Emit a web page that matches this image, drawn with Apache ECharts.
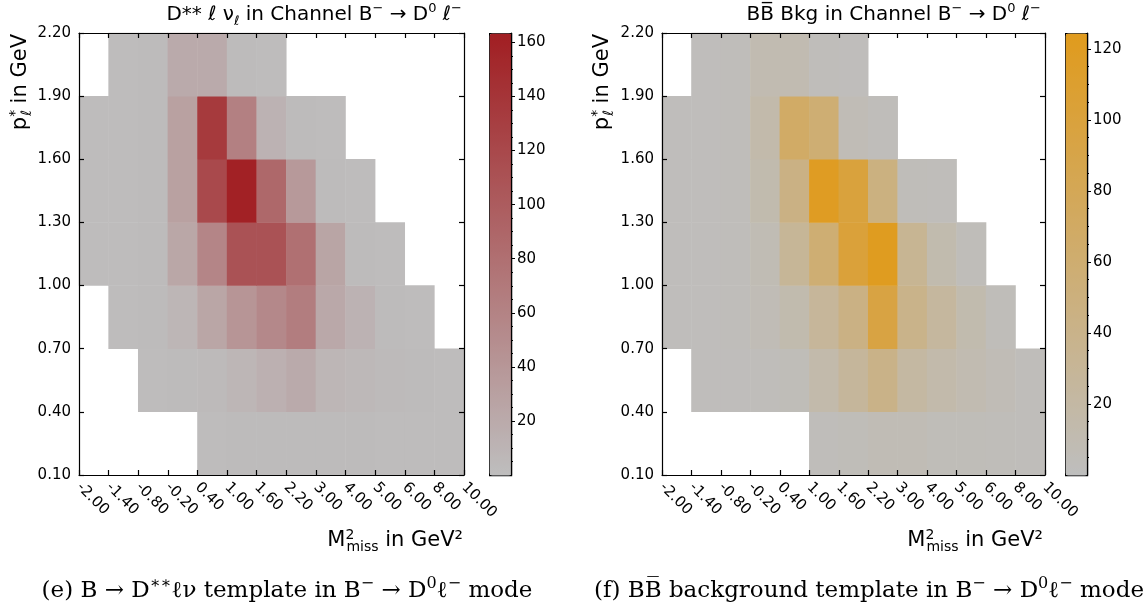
<!DOCTYPE html>
<html><head><meta charset="utf-8">
<script src="https://cdn.jsdelivr.net/npm/echarts@6/dist/echarts.min.js"></script>
<style>html,body{margin:0;padding:0;background:#fff}#c{width:1147px;height:610px}</style>
</head><body><div id="c"></div>
<script>
// ---- data ----
const xEdges = ['-2.00','-1.40','-0.80','-0.20','0.40','1.00','1.60','2.20','3.00','4.00','5.00','6.00','8.00','10.00'];
const yEdges = ['0.10','0.40','0.70','1.00','1.30','1.60','1.90','2.20'];
// rows from bottom (0.10-0.40) to top (1.90-2.20); 13 M2miss bins each
const dstarRow0 = [null,null,null,null,2,3,3,3,3,3,2,2,2];
const dstarRow1 = [null,null,2,3,4,8,14,20,8,6,4,3,2];
const dstarRow2 = [null,2,3,8,25,42,55,66,22,12,3,2,null];
const dstarRow3 = [2,2,3,24,58,110,110,80,26,3,2,null,null];
const dstarRow4 = [2,2,3,30,120,160,88,38,3,2,null,null,null];
const dstarRow5 = [2,2,3,30,135,63,12,3,2,null,null,null,null];
const dstarRow6 = [null,2,3,20,20,3,2,null,null,null,null,null,null];
const bbRow0 = [null,null,null,null,null,3,5,7,7,5,5,4,3];
const bbRow1 = [null,2,2,3,5,15,27,42,22,15,10,6,3];
const bbRow2 = [2,2,3,6,12,28,45,95,40,25,12,4,null];
const bbRow3 = [2,2,3,8,30,58,102,122,33,12,4,null,null];
const bbRow4 = [2,2,3,12,45,120,100,48,4,3,null,null,null];
const bbRow5 = [2,2,3,15,68,58,6,3,null,null,null,null,null];
const bbRow6 = [null,2,3,10,10,3,2,null,null,null,null,null,null];
const dstarMax = 163.5;
const bbMax = 124.5;
const dstarTicks = [20,40,60,80,100,120,140,160];
const bbTicks = [20,40,60,80,100,120];

const dstarRows = [dstarRow0,dstarRow1,dstarRow2,dstarRow3,dstarRow4,dstarRow5,dstarRow6];
const bbRows = [bbRow0,bbRow1,bbRow2,bbRow3,bbRow4,bbRow5,bbRow6];
function toData(rows){const d=[];rows.forEach((r,yi)=>r.forEach((v,xi)=>{if(v!=null)d.push([xi,yi,v]);}));return d;}

const F = 'DejaVu Sans';
const BLK = '#000';
const nX = xEdges.length-1, nY = yEdges.length-1;
const catX = Array.from({length:nX},(_,i)=>String(i));
const catY = Array.from({length:nY},(_,i)=>String(i));

const panels = [
  {left:79, top:33, w:385, h:442, cbLeft:489, max:dstarMax, ticks:dstarTicks, rows:dstarRows, col:['#bebebe','#a11e22']},
  {left:662, top:33, w:383, h:442, cbLeft:1065, max:bbMax, ticks:bbTicks, rows:bbRows, col:['#bebebe','#e09b1d']}
];

const grid=[], xAxis=[], yAxis=[], series=[], visualMap=[];
const lineS = {show:true, onZero:false, lineStyle:{color:BLK, width:1.2}};
const noS = {show:false};
panels.forEach((p,pi)=>{
  const g0 = grid.length;
  grid.push({left:p.left, top:p.top, width:p.w, height:p.h});
  grid.push({left:p.left, top:p.top, width:p.w, height:p.h});
  grid.push({left:p.cbLeft, top:p.top, width:22, height:p.h});
  const x0 = xAxis.length, y0 = yAxis.length;
  xAxis.push({type:'category', gridIndex:g0, data:catX, show:false});
  yAxis.push({type:'category', gridIndex:g0, data:catY, show:false});
  const tick = {show:true, inside:true, length:5, lineStyle:{color:BLK, width:1.2}};
  // edge axes: value i+1 is bin edge i (range kept away from zero)
  xAxis.push({type:'value', gridIndex:g0+1, position:'bottom', min:1, max:nX+1, interval:1, z:10,
    axisLine:lineS, axisTick:tick, splitLine:noS,
    axisLabel:{rotate:-45, margin:10, fontFamily:F, fontSize:15, color:BLK, formatter:v=>xEdges[Math.round(v)-1]}});
  xAxis.push({type:'value', gridIndex:g0+1, position:'top', min:1, max:nX+1, interval:1, z:10,
    axisLine:lineS, axisTick:tick, splitLine:noS, axisLabel:noS});
  yAxis.push({type:'value', gridIndex:g0+1, position:'left', min:1, max:nY+1, interval:1, z:10,
    axisLine:lineS, axisTick:tick, splitLine:noS,
    axisLabel:{margin:8, fontFamily:F, fontSize:15, color:BLK, formatter:v=>yEdges[Math.round(v)-1]}});
  yAxis.push({type:'value', gridIndex:g0+1, position:'right', min:1, max:nY+1, interval:1, z:10,
    axisLine:lineS, axisTick:tick, splitLine:noS, axisLabel:noS});
  // colorbar axis
  xAxis.push({type:'value', gridIndex:g0+2, min:1, max:2, show:false});
  yAxis.push({type:'value', gridIndex:g0+2, position:'right', min:0, max:p.max, interval:20, z:10,
    axisLine:lineS, splitLine:noS,
    axisTick:{show:true, inside:false, length:4, customValues:p.ticks, lineStyle:{color:BLK, width:1}},
    minorTick:{show:true, splitNumber:4, length:2, lineStyle:{color:BLK, width:1}},
    axisLabel:{margin:6, fontFamily:F, fontSize:15, color:BLK, customValues:p.ticks}});
  series.push({type:'heatmap', xAxisIndex:x0, yAxisIndex:y0, data:toData(p.rows), emphasis:{disabled:true}, itemStyle:{borderWidth:0}});
  visualMap.push({type:'continuous', seriesIndex:pi, min:0, max:p.max, calculable:false, orient:'vertical',
    left:p.cbLeft, top:p.top, itemWidth:22, itemHeight:p.h, padding:0, text:null, hoverLink:false,
    borderColor:BLK, borderWidth:1.2, inRange:{color:p.col}});
});

// text measuring for left-anchored stacked scripts
const mctx = document.createElement('canvas').getContext('2d');
function tw(s,size,fam){mctx.font = size+'px "'+(fam||F)+'"'; return mctx.measureText(s).width;}

const LS = 21, SS = 14;
const subS = {fontSize:SS, verticalAlign:'bottom', lineHeight:SS, fontFamily:F};
const supS = {fontSize:SS, verticalAlign:'top', lineHeight:SS, fontFamily:F};
const tsup = {fontSize:13, verticalAlign:'top', lineHeight:14, fontFamily:F};
const tsub = {fontSize:13, verticalAlign:'bottom', lineHeight:13, fontFamily:F};
function txt(x,y,text,opt){
  return Object.assign({type:'text', x:x, y:y, z:20, style:Object.assign({text:text, fill:BLK, fontFamily:F, fontSize:20,
    lineHeight:26, align:'center', verticalAlign:'middle',
    rich:{sub:subS, sup:supS, tsup:tsup, tsub:tsub, sup0:Object.assign({}, supS, {width:1}),
      csup:{fontSize:16, verticalAlign:'top', lineHeight:16, fontFamily:'DejaVu Serif'}}}, opt.style||{})}, opt.el||{});
}
const xNameW = tw('M',LS) + 1 + tw('miss',SS) + tw(' in GeV²',LS);
const yNameW = tw('p',LS) + 1 + tw('ℓ',SS) + tw(' in GeV',LS);
const capS = {fontFamily:'DejaVu Serif', fontSize:23, lineHeight:30};
const graphic = [
  txt(462,15,'D** ℓ ν{tsub|ℓ} in Channel B{tsup|−} → D{tsup|0} ℓ{tsup|−}',{style:{align:'right'}}),
  txt(1041,15,'BB\u0305 Bkg in Channel B{tsup|−} → D{tsup|0} ℓ{tsup|−}',{style:{align:'right'}}),
  txt(21,34+yNameW,'p{sup0|*}{sub|ℓ} in GeV',{style:{align:'left', fontSize:LS}, el:{rotation:Math.PI/2}}),
  txt(603,34+yNameW,'p{sup0|*}{sub|ℓ} in GeV',{style:{align:'left', fontSize:LS}, el:{rotation:Math.PI/2}}),
  txt(463-xNameW,541,'M{sup0|2}{sub|miss} in GeV²',{style:{align:'left', fontSize:LS}}),
  txt(1043-xNameW,541,'M{sup0|2}{sub|miss} in GeV²',{style:{align:'left', fontSize:LS}}),
  txt(287,591,'(e) B → D{csup|∗∗}ℓν template in B{csup|−} → D{csup|0}ℓ{csup|−} mode',{style:capS}),
  txt(869,591,'(f) BB\u0305 background template in B{csup|−} → D{csup|0}ℓ{csup|−} mode',{style:capS})
];

const chart = echarts.init(document.getElementById('c'), null, {renderer:'canvas'});
chart.setOption({animation:false, backgroundColor:'#fff', grid, xAxis, yAxis, series, visualMap, graphic});
</script></body></html>
